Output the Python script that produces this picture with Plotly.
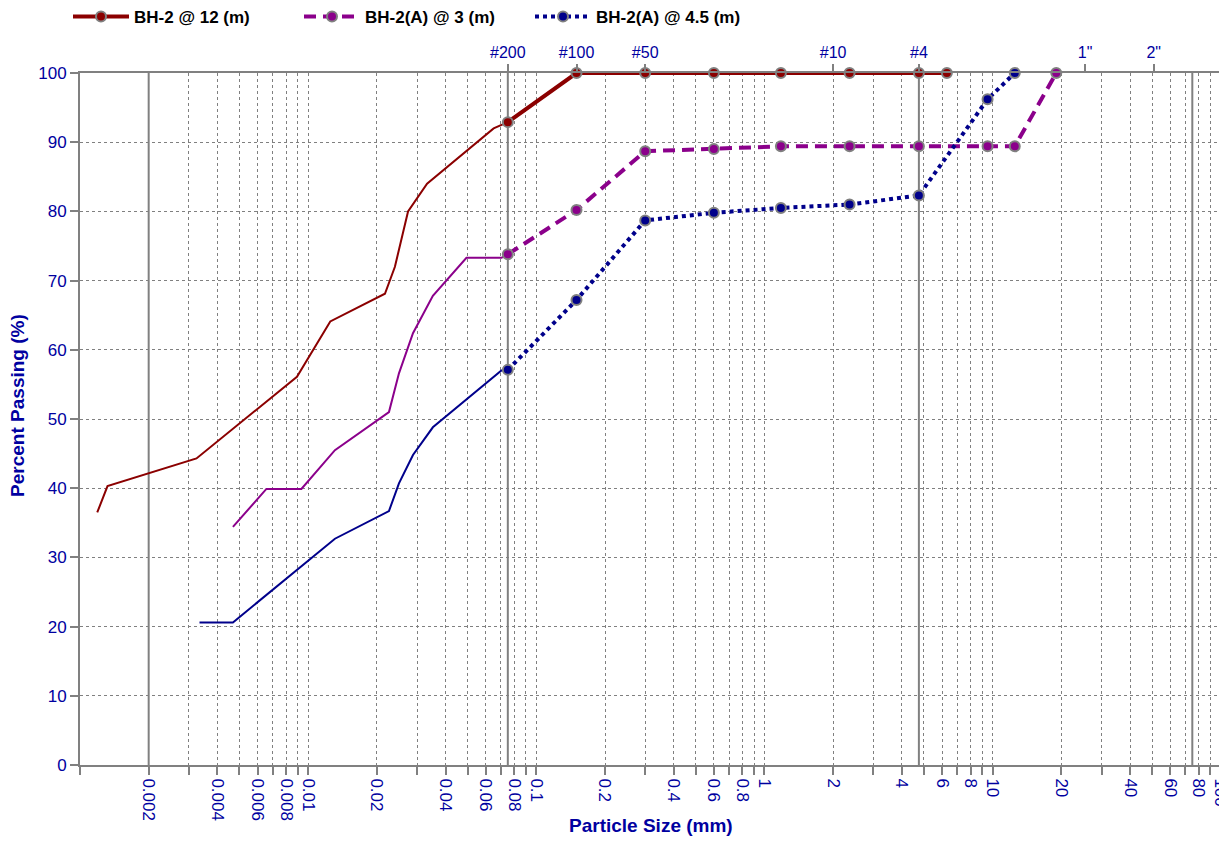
import plotly.graph_objects as go

# ---------------- data ----------------
series_names = ["BH-2 @ 12 (m)", "BH-2(A) @ 3 (m)", "BH-2(A) @ 4.5 (m)"]

# sieve analysis (mm, % passing)
red_sieve_x = [0.075, 0.15, 0.3, 0.6, 1.18, 2.36, 4.75, 6.3]
red_sieve_y = [92.9, 100, 100, 100, 100, 100, 100, 100]
pur_sieve_x = [0.075, 0.15, 0.3, 0.6, 1.18, 2.36, 4.75, 9.5, 12.5, 19.0]
pur_sieve_y = [73.8, 80.2, 88.7, 89.0, 89.4, 89.4, 89.4, 89.4, 89.4, 100]
blu_sieve_x = [0.075, 0.15, 0.3, 0.6, 1.18, 2.36, 4.75, 9.5, 12.5]
blu_sieve_y = [57.1, 67.2, 78.7, 79.8, 80.5, 81.0, 82.3, 96.2, 100]

# hydrometer analysis (mm, % passing)
red_hyd_x = [0.00119, 0.00132, 0.00324, 0.00893, 0.0125, 0.0217, 0.024, 0.0274, 0.0332, 0.065]
red_hyd_y = [36.5, 40.3, 44.3, 56.1, 64.1, 68.1, 72.0, 80.0, 84.0, 92.0]
pur_hyd_x = [0.00468, 0.00656, 0.00934, 0.0131, 0.0226, 0.025, 0.0288, 0.0352, 0.0494, 0.0703]
pur_hyd_y = [34.4, 39.9, 39.9, 45.5, 51.0, 56.6, 62.4, 67.8, 73.3, 73.3]
blu_hyd_x = [0.00334, 0.00468, 0.0131, 0.0226, 0.025, 0.0288, 0.0352, 0.0703]
blu_hyd_y = [20.6, 20.6, 32.7, 36.7, 40.7, 44.8, 48.8, 57.0]

colors = ["#8B0000", "#8B008B", "#00008B"]
dashes = ["solid", "12px,7px", "dot"]

# top axis sieve labels
sieve_tick_vals = [0.075, 0.15, 0.3, 2.0, 4.75, 25.4, 50.8]
sieve_tick_text = ["#200", "#100", "#50", "#10", "#4", "1\"", "2\""]

# bottom axis labels
bottom_labels = [0.002, 0.004, 0.006, 0.008, 0.01, 0.02, 0.04, 0.06, 0.08, 0.1,
                 0.2, 0.4, 0.6, 0.8, 1, 2, 4, 6, 8, 10, 20, 40, 60, 80, 100]
boundary_sizes = [0.002, 0.075, 4.75, 75]

y_ticks = list(range(0, 101, 10))

# ---------------- figure ----------------
navy = "#0000A0"
gray = "#808080"
FONT = "Liberation Sans, Arial"

fig = go.Figure()

sieves = [(red_sieve_x, red_sieve_y), (pur_sieve_x, pur_sieve_y), (blu_sieve_x, blu_sieve_y)]
hyds = [(red_hyd_x, red_hyd_y), (pur_hyd_x, pur_hyd_y), (blu_hyd_x, blu_hyd_y)]

for (hx, hy), (sx, sy), c in zip(hyds, sieves, colors):
    fig.add_trace(go.Scatter(x=hx + [sx[0]], y=hy + [sy[0]], mode="lines",
                             line=dict(color=c, width=2), showlegend=False,
                             hoverinfo="skip"))

for (sx, sy), c, d, n in zip(sieves, colors, dashes, series_names):
    fig.add_trace(go.Scatter(x=sx, y=sy, mode="lines+markers", name=n,
                             line=dict(color=c, width=4, dash=d),
                             marker=dict(color=c, size=10, line=dict(color=gray, width=2)),
                             cliponaxis=False))

# invisible trace to anchor top axis
fig.add_trace(go.Scatter(x=sieve_tick_vals, y=[50] * len(sieve_tick_vals), xaxis="x2",
                         mode="markers", marker=dict(opacity=0), showlegend=False,
                         hoverinfo="skip"))

for b in boundary_sizes:
    fig.add_shape(type="line", xref="x", yref="y", x0=b, x1=b, y0=0, y1=100,
                  line=dict(color=gray, width=2), layer="below")

# bottom tick values: every 1..9 x decade
all_ticks = []
all_text = []
for e in range(-3, 2):
    for m in range(1, 10):
        v = round(m * 10 ** e, 6)
        all_ticks.append(v)
        all_text.append(f"{v:g}" if v in bottom_labels else "")
all_ticks.append(100)
all_text.append("100")

tickfont = dict(family=FONT, size=17, color=navy)

fig.update_layout(
    width=1227, height=841,
    margin=dict(l=72, r=14, t=65, b=84, autoexpand=False),
    paper_bgcolor="white", plot_bgcolor="white",
    font=dict(family=FONT),
    showlegend=True,
    legend=dict(orientation="h", xref="container", yref="container",
                x=0.0489, y=0.9893, xanchor="left", yanchor="middle",
                entrywidth=160, entrywidthmode="pixels", itemwidth=56,
                font=dict(family=FONT, size=17, color="black", weight="bold"),
                bgcolor="rgba(0,0,0,0)"),
    xaxis=dict(type="log", range=[-3, 2.0008], tickvals=all_ticks, ticktext=all_text,
               tickangle=90, tickfont=tickfont, automargin=False,
               ticks="outside", ticklen=8, tickwidth=2, tickcolor=gray,
               showline=True, linecolor=gray, linewidth=2, mirror=True,
               showgrid=True, gridcolor=gray, griddash="dot", gridwidth=1,
               zeroline=False),
    xaxis2=dict(type="log", range=[-3, 2.0008], overlaying="x", side="top",
                tickvals=sieve_tick_vals, ticktext=sieve_tick_text, automargin=False,
                tickfont=dict(family=FONT, size=16, color=navy),
                ticks="outside", ticklen=8, tickwidth=2, tickcolor=gray,
                showgrid=False, showline=False, zeroline=False),
    yaxis=dict(range=[0, 100], tickvals=y_ticks, tickfont=tickfont, automargin=False,
               ticks="outside", ticklen=8, tickwidth=2, tickcolor=gray,
               showline=True, linecolor=gray, linewidth=2, mirror=True,
               showgrid=True, gridcolor=gray, griddash="dot", gridwidth=1,
               zeroline=False),
    annotations=[
        dict(text="<b>Particle Size (mm)</b>", xref="paper", yref="paper",
             x=0.5, y=-0.088, xanchor="center", yanchor="middle", showarrow=False,
             font=dict(family=FONT, size=19, color=navy)),
        dict(text="<b>Percent Passing (%)</b>", xref="paper", yref="paper",
             x=-0.0543, y=0.519, xanchor="center", yanchor="middle", showarrow=False,
             textangle=-90, font=dict(family=FONT, size=19, color=navy)),
    ],
)

fig.write_html("out.html")
